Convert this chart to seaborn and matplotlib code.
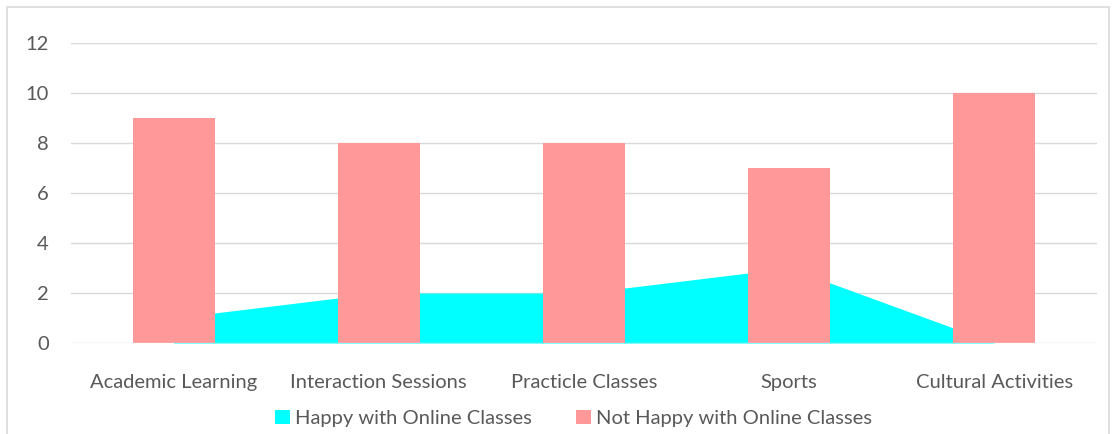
import matplotlib
matplotlib.use("Agg")
import matplotlib.pyplot as plt
from matplotlib.patches import Patch, Rectangle
import seaborn as sns
import pandas as pd

categories = ["Academic Learning", "Interaction Sessions", "Practicle Classes",
              "Sports", "Cultural Activities"]
happy = [1, 2, 2, 3, 0]
not_happy = [9, 8, 8, 7, 10]
y_ticks = [0, 2, 4, 6, 8, 10, 12]

happy_label = "Happy with Online Classes"
not_happy_label = "Not Happy with Online Classes"

cyan = "#00FFFF"
pink = "#FF9999"
grid_c = "#D9D9D9"
text_c = "#595959"

sns.set_theme(style="white")
plt.rcParams["font.family"] = ["Lato", "DejaVu Sans"]
fs = 14.5

df = pd.DataFrame({"category": categories, "happy": happy, "not_happy": not_happy})

fig = plt.figure(figsize=(11.16, 4.34), dpi=100)
ax = fig.add_axes([0.0636, 0.2097, 0.9194, 0.6912])

for y in y_ticks[1:]:
    ax.axhline(y, color=grid_c, lw=1.0, zorder=0)
ax.axhline(0, color=grid_c, lw=1.0, zorder=3)

ax.fill_between(range(len(categories)), df["happy"], 0, color=cyan, lw=0, zorder=1)
sns.barplot(data=df, x="category", y="not_happy", color=pink, width=0.4,
            saturation=1, linewidth=0, edgecolor="none", ax=ax, zorder=2)

ax.set_xlim(-0.5, len(categories) - 0.5)
ax.set_ylim(0, 12)
ax.set_yticks(y_ticks)
ax.set_xlabel("")
ax.set_ylabel("")
for s in ax.spines.values():
    s.set_visible(False)
ax.tick_params(axis="both", length=0, labelsize=fs, colors=text_c)
ax.tick_params(axis="x", pad=22)
ax.tick_params(axis="y", pad=16)

handles = [Patch(facecolor=cyan, edgecolor="none", label=happy_label),
           Patch(facecolor=pink, edgecolor="none", label=not_happy_label)]
fig.legend(handles=handles, loc="center", bbox_to_anchor=(0.514, 0.036), ncol=2,
           frameon=False, fontsize=fs, labelcolor=text_c, handlelength=0.75,
           handleheight=0.75, handletextpad=0.25, columnspacing=2.2)

fig.patches.append(Rectangle((7 / 1116, -0.01), 1 - 14 / 1116, 1 - 7 / 434 + 0.01,
                             transform=fig.transFigure, fill=False,
                             edgecolor="#D9D9D9", lw=1.2))

fig.savefig("out.png", dpi=100, facecolor="white")
